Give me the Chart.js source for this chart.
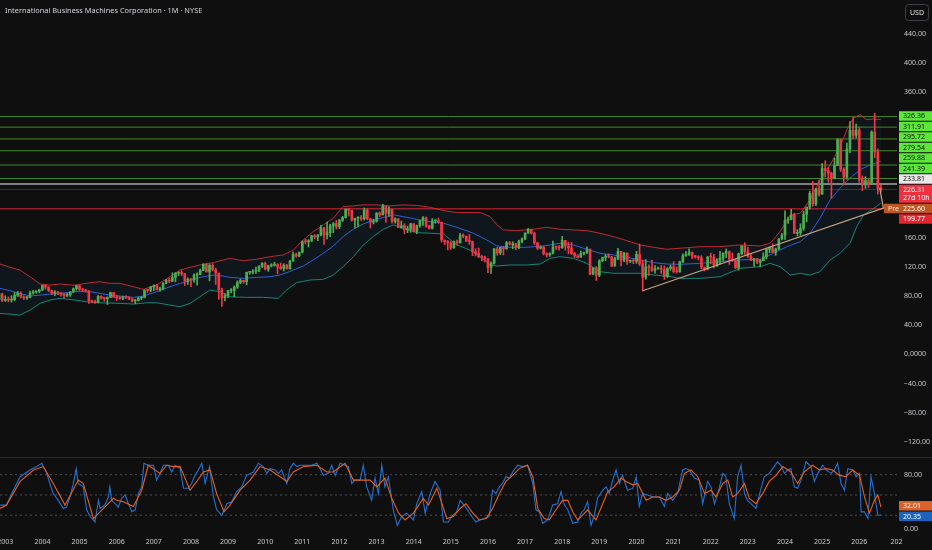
<!DOCTYPE html>
<html>
<head>
<meta charset="utf-8">
<script src="https://cdn.jsdelivr.net/npm/chart.js@4.4.1/dist/chart.umd.min.js"></script>
<style>
html, body { margin: 0; padding: 0; background: #0f0f0f; }
#wrap { position: relative; width: 932px; height: 550px; overflow: hidden; background: #0f0f0f; }
canvas { position: absolute; left: 0; }
#price { top: 0; }
#osc { top: 456px; }
</style>
</head>
<body>
<div id="wrap">
  <canvas id="price" width="932" height="456"></canvas>
  <canvas id="osc" width="932" height="94"></canvas>
</div>
<script>
const FONT = '"Noto Sans", "DejaVu Sans", sans-serif';
const UP = '#4caf50';
const DOWN = '#f23645';
const TEXT = '#c8cad0';

// monthly candles, month 0 = Jan 2003, first candle = Nov 2002
const startMonth = -2;
const firstOpen = 75.4;
const closes = [
  83.0, 74.0,
  74.7, 74.5, 74.9, 81.1, 84.0, 78.8, 77.5, 78.3, 84.3, 85.5, 86.4, 88.5,
  94.7, 92.2, 87.7, 84.2, 84.6, 84.2, 83.2, 80.9, 81.8, 85.8, 90.0, 94.2,
  89.2, 88.4, 87.3, 73.0, 72.2, 70.9, 79.7, 77.0, 76.6, 78.2, 84.9, 78.5,
  77.6, 76.6, 78.8, 78.6, 76.3, 73.3, 73.9, 77.4, 78.2, 88.1, 87.8, 92.8,
  94.7, 88.9, 90.1, 97.6, 101.8, 100.6, 105.7, 111.4, 112.5, 110.9, 100.5, 103.2,
  102.3, 108.8, 109.9, 115.3, 123.6, 113.2, 122.2, 116.2, 111.7, 88.8, 77.9, 80.4,
  87.6, 87.9, 92.5, 98.6, 101.5, 99.7, 112.6, 112.8, 114.2, 115.2, 120.7, 125.0,
  116.9, 121.5, 122.5, 123.2, 119.7, 117.9, 122.6, 117.6, 128.1, 137.1, 135.1, 140.2,
  154.7, 154.6, 155.8, 162.9, 161.3, 163.9, 173.7, 164.2, 167.0, 176.3, 179.5, 175.6,
  183.9, 187.8, 199.3, 197.8, 184.2, 186.8, 187.2, 186.1, 198.2, 185.7, 181.5, 183.0,
  194.0, 191.8, 203.7, 193.4, 198.6, 182.5, 186.2, 174.1, 176.9, 171.1, 171.6, 179.2,
  168.7, 176.9, 183.8, 187.7, 176.1, 173.1, 183.1, 183.6, 181.3, 157.0, 154.9, 153.2,
  146.4, 154.6, 153.3, 163.6, 162.1, 155.4, 154.7, 141.2, 138.5, 133.8, 133.1, 131.4,
  119.2, 125.1, 144.7, 139.3, 146.8, 145.0, 153.4, 151.7, 151.7, 146.8, 154.9, 158.5,
  166.6, 171.7, 166.3, 153.1, 145.7, 146.9, 138.2, 136.6, 138.6, 147.2, 147.1, 146.5,
  156.3, 148.8, 146.5, 138.5, 134.9, 133.4, 138.4, 139.9, 144.4, 110.2, 118.7, 108.6,
  128.4, 132.9, 134.8, 134.0, 121.3, 131.7, 141.5, 129.4, 138.9, 127.7, 128.4, 128.0,
  137.2, 124.3, 105.9, 119.9, 119.3, 115.4, 117.4, 117.8, 116.2, 106.7, 117.9, 120.2,
  113.7, 113.5, 127.3, 135.5, 137.2, 140.0, 134.7, 134.0, 132.6, 119.5, 117.1, 133.7,
  133.6, 122.5, 130.0, 132.2, 138.8, 141.2, 130.8, 128.5, 118.8, 138.3, 148.9, 140.9,
  134.7, 129.3, 131.1, 126.4, 128.6, 133.8, 144.2, 146.8, 140.3, 144.6, 158.6, 163.6,
  183.7, 185.0, 191.0, 166.2, 166.9, 173.0, 192.1, 202.1, 221.1, 206.7, 227.4, 219.8,
  255.7, 252.4, 248.7, 241.8, 259.1, 294.8, 254.0, 243.5, 282.0, 307.5, 300.5, 308.0,
  240.0, 234.0, 238.5, 235.5, 305.0, 278.0, 228.0, 226.31
];
const highs = [
  85.5, 84.0,
  80.5, 79.0, 80.5, 85.0, 86.5, 86.0, 80.5, 79.8, 87.0, 88.0, 87.5, 89.5,
  95.0, 95.5, 93.0, 88.5, 87.5, 86.5, 85.0, 83.5, 84.0, 86.0, 91.0, 95.0,
  94.5, 90.5, 89.5, 87.5, 74.5, 74.5, 81.0, 80.5, 78.5, 79.0, 85.5, 85.0,
  81.0, 79.5, 80.0, 80.5, 79.0, 76.5, 75.5, 78.5, 79.0, 88.5, 89.5, 93.0,
  95.5, 96.0, 92.5, 98.5, 103.0, 104.5, 112.0, 112.5, 113.5, 115.0, 111.0, 105.0,
  104.0, 110.5, 112.0, 117.0, 124.5, 125.0, 124.0, 124.5, 118.5, 111.0, 91.0, 83.5,
  88.0, 90.5, 94.0, 101.0, 103.5, 102.0, 113.0, 113.5, 116.5, 120.0, 122.0, 126.0,
  126.5, 122.5, 124.5, 126.5, 124.5, 125.5, 124.5, 123.5, 129.0, 140.5, 139.0, 140.5,
  156.0, 158.0, 157.5, 163.5, 164.5, 164.5, 177.0, 174.5, 181.5, 178.5, 181.0, 184.0,
  185.5, 189.5, 200.0, 200.5, 198.0, 187.0, 189.0, 190.5, 201.0, 200.0, 186.5, 185.5,
  194.5, 195.5, 206.0, 203.5, 203.0, 199.5, 187.5, 186.0, 183.0, 179.5, 176.0, 180.0,
  180.0, 177.5, 184.0, 189.0, 188.5, 177.5, 186.5, 185.0, 187.0, 181.5, 157.0, 156.5,
  155.0, 156.0, 157.0, 166.0, 165.5, 162.5, 164.5, 155.5, 145.0, 146.0, 136.0, 135.0,
  131.5, 127.0, 145.5, 147.0, 147.0, 148.0, 155.0, 155.0, 154.5, 152.5, 157.0, 160.0,
  167.0, 173.0, 172.0, 168.0, 154.0, 149.0, 148.5, 139.5, 139.5, 155.5, 148.5, 149.5,
  162.0, 156.5, 154.0, 153.5, 140.0, 137.0, 142.0, 140.5, 147.5, 144.5, 119.0, 120.5,
  130.0, 133.5, 137.0, 138.0, 134.5, 133.5, 145.5, 141.5, 140.0, 139.5, 129.5, 130.5,
  141.5, 151.5, 129.0, 130.0, 123.0, 129.5, 122.0, 120.0, 122.5, 121.5, 119.0, 122.5,
  127.5, 120.0, 128.0, 138.0, 141.5, 145.0, 140.5, 136.0, 135.5, 135.5, 120.0, 134.5,
  138.8, 137.4, 131.5, 141.5, 139.5, 144.7, 141.9, 139.3, 130.5, 138.9, 149.0, 153.2,
  147.2, 137.5, 131.5, 132.0, 130.3, 139.5, 146.0, 147.7, 151.9, 146.0, 158.6, 166.3,
  196.9, 188.5, 199.2, 193.8, 171.2, 179.3, 196.8, 202.2, 224.2, 237.4, 228.0, 239.4,
  261.8, 265.7, 257.0, 250.0, 269.3, 296.2, 296.0, 256.0, 290.0, 319.4, 325.0, 316.0,
  312.0, 245.0, 244.0, 241.0, 307.0, 331.0, 282.0, 232.0
];
const lows = [
  74.0, 72.5,
  72.5, 72.0, 71.8, 74.0, 79.5, 77.5, 75.0, 75.5, 77.5, 82.5, 84.0, 84.5,
  87.5, 89.5, 86.0, 82.0, 80.5, 82.0, 80.0, 77.5, 79.0, 79.5, 85.0, 88.0,
  87.5, 86.0, 85.5, 70.0, 70.5, 70.0, 70.5, 76.0, 73.0, 68.5, 78.0, 78.0,
  74.0, 75.5, 75.0, 76.5, 75.0, 72.0, 69.5, 73.0, 75.0, 77.5, 85.0, 86.0,
  87.5, 88.0, 86.5, 88.5, 97.0, 98.5, 100.0, 99.5, 108.0, 108.0, 94.5, 96.0,
  93.0, 99.0, 95.0, 109.5, 115.0, 113.0, 101.0, 114.5, 96.0, 75.5, 66.0, 73.5,
  78.0, 84.5, 79.0, 90.5, 97.0, 97.5, 95.5, 110.0, 110.5, 111.0, 113.5, 119.0,
  116.0, 114.0, 120.0, 121.0, 110.5, 116.5, 114.5, 117.0, 117.0, 128.0, 133.5, 134.0,
  139.5, 151.5, 147.5, 155.0, 158.5, 156.0, 162.5, 151.0, 158.5, 161.5, 167.0, 172.0,
  172.5, 182.5, 187.0, 190.0, 183.0, 173.5, 175.0, 184.0, 184.5, 185.0, 173.5, 179.0,
  181.5, 189.0, 191.0, 181.0, 189.5, 180.0, 180.0, 174.0, 173.0, 165.5, 167.0, 167.5,
  168.0, 165.5, 174.5, 177.0, 174.5, 172.0, 172.0, 180.0, 180.0, 154.0, 150.5, 143.5,
  144.0, 145.5, 150.0, 152.5, 160.0, 155.0, 151.0, 135.5, 135.0, 133.0, 128.5, 127.0,
  112.0, 111.0, 124.0, 136.0, 137.0, 136.5, 144.0, 150.0, 145.0, 143.5, 145.0, 153.0,
  157.5, 166.0, 165.0, 151.0, 144.0, 144.5, 136.5, 133.5, 134.5, 138.0, 143.5, 143.0,
  145.5, 143.0, 138.0, 137.0, 133.0, 132.0, 133.0, 136.5, 138.5, 109.0, 109.0, 101.5,
  106.5, 127.0, 128.5, 132.5, 120.5, 121.0, 130.0, 121.5, 127.0, 123.5, 126.0, 124.5,
  125.0, 122.0, 87.0, 103.0, 108.5, 114.0, 111.5, 117.0, 111.0, 103.0, 105.5, 115.5,
  112.0, 111.5, 112.5, 126.0, 134.5, 136.0, 131.5, 132.0, 129.5, 117.5, 114.5, 116.0,
  124.2, 118.8, 120.7, 124.5, 128.1, 132.9, 123.5, 127.5, 118.0, 115.5, 136.5, 137.2,
  133.0, 128.5, 120.6, 124.6, 120.2, 128.5, 131.0, 139.5, 139.6, 135.9, 143.5, 157.0,
  157.9, 179.6, 185.2, 165.7, 162.6, 163.5, 170.2, 181.8, 199.3, 203.5, 204.1, 217.0,
  219.8, 243.5, 236.4, 214.5, 241.0, 259.0, 251.0, 233.4, 240.5, 277.0, 296.0, 297.0,
  236.0, 225.0, 228.0, 229.0, 233.0, 270.0, 220.0, 223.0
];

// Bollinger bands: [month, price]
const bbUpper = [
  [-1.7, 124], [1.5, 119.5], [4.7, 115.8], [8.0, 106.6], [11.2, 96.6], [14.4, 95.2], [17.7, 96.6],
  [22.5, 95], [27.4, 98.4], [30.6, 99.7], [33.8, 97.5], [37.1, 97.5], [41.4, 92.9], [44.6, 89.2],
  [48.9, 95.2], [53.2, 106.6], [56.5, 115.8], [59.7, 119.5], [62.9, 122.7], [67.2, 125.9], [70.5, 129.6],
  [72.6, 131.9], [76.9, 128.6], [81.2, 130.5], [85.5, 134.1], [89.8, 136.5], [93.1, 143.3], [96.3, 157.1],
  [99.5, 168.5], [102.8, 177.7], [106.0, 186.9], [109.2, 202.9], [112.5, 203.9], [115.7, 205.2],
  [120.0, 205.2], [124.3, 203.9], [128.6, 205.2], [132.9, 204.5], [137.2, 202], [141.6, 197.4],
  [145.9, 194.7], [153.5, 194.7], [156.7, 189.1], [158.9, 177.7], [161.0, 170.8], [165.3, 169.9],
  [170.7, 171.8], [175.0, 174.5], [179.3, 171.8], [183.6, 170.8], [187.9, 169.9], [192.2, 166.3],
  [196.6, 161.6], [200.9, 156.1], [205.2, 150.2], [209.5, 147.0], [213.8, 144.3], [218.1, 145.7],
  [224.6, 147.9], [231.0, 147.9], [237.5, 150.2], [244.0, 148.8], [247.2, 152.5], [250.4, 168.5],
  [253.7, 191.5], [256.9, 193.8], [260.1, 212.1], [263.3, 239.6], [266.6, 260.2], [269.8, 285.4],
  [272.0, 308.4], [274.1, 324.5], [276.3, 329], [278.4, 322.1], [280.6, 323.1], [283.0, 322.5]
];
const bbMiddle = [
  [-1.7, 90.6], [1.5, 87.4], [4.7, 83.7], [8.0, 80.1], [11.2, 81.4], [14.4, 82.8], [17.7, 83.7],
  [22.5, 86.0], [27.4, 86.0], [30.6, 83.7], [33.8, 81.4], [37.1, 80.1], [41.4, 78.2], [44.6, 80.1],
  [48.9, 86.0], [53.2, 92.9], [56.5, 97.5], [59.7, 101.1], [62.9, 105.7], [67.2, 108.9], [70.5, 107.5],
  [72.6, 105.7], [76.9, 104.4], [81.2, 105.7], [85.5, 106.6], [88.8, 108.9], [93.1, 115.8], [96.3, 121.3],
  [99.5, 129.6], [102.8, 138.8], [106.0, 148.8], [109.2, 161.6], [112.5, 171.8], [115.7, 179.1],
  [120.0, 185.5], [123.2, 189.1], [125.4, 191.5], [128.6, 189.1], [132.9, 185.5], [137.2, 182.3],
  [141.6, 180], [145.9, 174.5], [151.3, 166.3], [155.6, 157.1], [158.9, 148.8], [163.2, 147],
  [168.5, 147], [173.9, 148.8], [179.3, 152.5], [183.6, 150.2], [187.9, 144.3], [192.2, 138.8],
  [196.6, 136.5], [200.9, 133.3], [205.2, 129.6], [209.5, 125.9], [213.8, 124.1], [218.1, 123.6],
  [224.6, 125.0], [231.0, 127.3], [237.5, 129.6], [244.0, 130.5], [248.3, 138.8], [252.6, 147.9],
  [256.9, 154.7], [260.1, 166.3], [263.3, 186.9], [266.6, 212.1], [269.8, 228.2], [273.0, 242],
  [276.3, 253.4], [279.5, 260.2], [283.0, 265]
];
const bbLower = [
  [-1.7, 56.2], [1.5, 55.3], [4.7, 53.9], [8.0, 60.8], [11.2, 70.0], [14.4, 74.6], [17.7, 76.9],
  [22.5, 74.6], [26.3, 72.2], [30.6, 70.9], [37.1, 70], [41.4, 69.1], [45.7, 70.9], [48.9, 70.9],
  [53.2, 67.7], [56.5, 65.4], [59.7, 70], [62.9, 79.1], [66.1, 88.3], [69.4, 86], [72.6, 79],
  [78.0, 78.3], [83.4, 78.3], [88.2, 76.9], [90.9, 88.3], [94.1, 98.4], [98.5, 102.1], [102.8, 103.0],
  [106.0, 108.9], [109.2, 120.4], [112.5, 134.1], [115.7, 150.2], [118.9, 161.6], [122.2, 171.8],
  [125.4, 177.7], [128.6, 173.2], [132.9, 167.1], [137.2, 166.3], [141.6, 165.3], [145.9, 150.2],
  [150.2, 143.3], [153.5, 134.1], [156.7, 122.7], [158.9, 121.3], [163.2, 122.7], [168.5, 122.7],
  [172.9, 124.1], [176.1, 131.9], [179.3, 134.1], [183.6, 131.9], [187.9, 125], [192.2, 113.5],
  [196.6, 111.3], [200.9, 111.3], [205.2, 111.3], [209.5, 108.9], [213.8, 107.5], [218.1, 104.4],
  [224.6, 104.4], [231.0, 106.6], [237.5, 118.2], [244.0, 120.4], [247.2, 125], [250.4, 120.4],
  [253.7, 108.9], [256.9, 111.3], [260.1, 108.9], [263.3, 113.5], [266.6, 129.6], [269.8, 138.8],
  [273.0, 152.5], [275.2, 175.4], [277.4, 191.5], [280.0, 198.3], [283.0, 207.6]
];

const trendLine = [[206, 87.3], [283.8, 200.8], [282.6, 229.0]];
const greenLevels = [326.36, 311.91, 295.72, 279.54, 259.88, 241.39];
const grayLevel = 233.81;
const redLevel = 199.77;
const lastPrice = 226.31;
const lastCountdown = '27d 10h';
const prePrice = 225.60;
const priceTicks = [440, 400, 360, 160, 120, 80, 40, 0, -40, -80, -120];

// stochastic RSI: [month, value]
const stochK = [
  [-1.7, 35], [0.4, 35], [2.6, 57], [4.8, 77], [8.0, 87], [10.1, 92], [11.8, 97], [13.4, 82], [14.4, 67],
  [15.5, 52], [17.1, 42], [18.8, 30], [19.8, 32], [20.9, 47], [22.0, 67], [22.9, 89], [23.6, 67], [25.2, 62],
  [26.3, 28], [27.4, 18], [29.0, 10], [30.1, 42], [30.6, 30], [32.2, 35], [33.3, 47], [33.8, 62], [34.4, 42],
  [35.5, 37], [36.5, 32], [37.6, 45], [38.7, 50], [39.8, 37], [40.9, 25], [42.0, 28], [43.0, 52], [44.1, 62],
  [44.8, 97], [46.2, 94], [47.9, 94], [48.9, 72], [50.0, 82], [51.1, 94], [52.7, 94], [53.8, 84], [54.9, 94],
  [56.5, 89], [57.6, 60], [59.2, 60], [60.2, 67], [61.3, 79], [62.4, 87], [63.5, 97], [64.6, 67], [66.0, 92],
  [67.3, 47], [68.3, 28], [70.0, 20], [71.6, 37], [73.2, 40], [74.8, 55], [76.4, 62], [78.0, 79], [80.2, 84],
  [81.8, 97], [83.4, 92], [84.5, 82], [85.6, 89], [87.2, 87], [88.3, 82], [89.3, 87], [91.0, 67], [92.0, 89],
  [93.1, 97], [94.2, 92], [95.3, 94], [97.4, 94], [99.0, 94], [100.7, 97], [101.7, 89], [102.8, 79],
  [104.4, 82], [105.5, 94], [106.6, 79], [108.2, 97], [109.8, 94], [110.9, 92], [112.0, 67], [113.0, 72],
  [114.7, 72], [115.7, 94], [116.8, 62], [118.4, 42], [119.5, 75], [120.6, 52], [121.7, 94], [122.7, 62],
  [123.8, 77], [125.4, 28], [126.7, 5], [128.1, 18], [129.7, 23], [131.9, 13], [133.0, 37], [134.6, 55],
  [135.7, 23], [137.3, 52], [138.9, 70], [140.5, 57], [141.6, 10], [143.2, 10], [144.2, 18], [145.9, 25],
  [147.0, 42], [148.6, 33], [150.5, 20], [152.1, 10], [153.2, 13], [154.8, 15], [156.4, 18], [157.5, 57],
  [158.6, 52], [159.7, 62], [160.7, 67], [161.8, 77], [162.9, 75], [164.0, 84], [165.6, 94], [167.2, 92],
  [168.8, 94], [170.5, 67], [171.5, 28], [172.6, 25], [173.7, 8], [175.3, 13], [176.9, 35], [178.5, 37],
  [179.6, 55], [180.7, 35], [181.8, 28], [183.4, 8], [185.0, 10], [186.1, 23], [187.1, 28], [188.2, 40],
  [189.3, 5], [190.4, 20], [191.4, 45], [193.1, 57], [194.2, 62], [195.2, 52], [196.3, 72], [197.4, 87],
  [198.5, 67], [199.5, 79], [201.1, 57], [202.8, 60], [203.9, 77], [204.9, 33], [206.0, 52], [207.6, 50],
  [209.2, 47], [211.4, 47], [213.0, 33], [214.1, 52], [215.7, 42], [217.3, 52], [218.9, 87], [220.0, 89],
  [221.1, 87], [222.7, 75], [224.3, 72], [225.4, 37], [227.0, 70], [228.1, 62], [229.2, 37], [230.2, 50],
  [231.9, 82], [232.9, 77], [234.0, 37], [235.6, 15], [236.7, 77], [237.8, 94], [238.9, 52], [239.9, 42],
  [241.5, 35], [242.6, 30], [243.7, 50], [245.3, 77], [246.9, 82], [248.0, 89], [249.6, 99], [250.7, 94],
  [251.8, 82], [252.9, 87], [253.9, 89], [255.0, 62], [256.1, 60], [257.2, 72], [258.8, 99], [260.4, 92],
  [261.5, 70], [262.6, 82], [264.2, 94], [265.3, 87], [266.9, 82], [268.0, 87], [269.0, 97], [270.1, 67],
  [271.2, 57], [272.3, 89], [273.9, 87], [275.0, 77], [276.1, 82], [276.6, 25], [277.7, 25], [278.8, 15],
  [279.8, 77], [280.9, 52], [282.0, 20], [283.0, 20.35]
];
const stochD = [
  [-1.7, 30], [0.4, 35], [4.8, 70], [9.1, 87], [12.3, 92], [15.5, 67], [19.3, 35], [23.6, 72], [25.2, 67],
  [28.5, 15], [30.6, 25], [35.0, 45], [36.0, 42], [38.2, 40], [41.4, 33], [44.1, 57], [46.2, 94], [50.0, 82],
  [52.2, 94], [54.3, 92], [56.5, 92], [59.7, 57], [61.9, 70], [64.0, 84], [66.2, 87], [68.3, 52], [70.7, 25],
  [72.6, 35], [75.9, 57], [79.1, 72], [82.3, 92], [85.6, 87], [88.8, 77], [91.0, 70], [93.1, 84], [96.4, 92],
  [100.7, 94], [103.9, 84], [106.0, 84], [109.8, 97], [112.5, 72], [115.7, 72], [117.9, 72], [120.1, 62],
  [122.7, 75], [124.9, 45], [127.1, 23], [129.2, 13], [131.9, 23], [135.1, 45], [136.8, 35], [139.5, 60],
  [142.7, 15], [144.8, 18], [147.0, 30], [148.9, 37], [151.1, 23], [153.2, 13], [155.4, 15], [157.5, 30],
  [159.7, 52], [161.8, 70], [164.0, 79], [166.1, 89], [168.8, 94], [170.5, 77], [172.1, 30], [174.2, 15],
  [175.8, 13], [178.0, 28], [180.1, 42], [181.8, 42], [183.4, 25], [185.0, 13], [186.6, 20], [188.2, 28],
  [190.9, 13], [193.1, 37], [194.7, 55], [196.8, 62], [199.0, 75], [200.6, 70], [202.8, 65], [204.4, 67],
  [207.1, 42], [209.2, 47], [211.4, 47], [213.5, 42], [215.7, 47], [217.9, 57], [219.5, 82], [221.6, 87],
  [223.8, 77], [226.0, 52], [228.1, 57], [229.7, 47], [231.9, 67], [233.5, 72], [235.1, 47], [236.7, 52],
  [238.9, 67], [240.5, 45], [242.6, 37], [244.8, 52], [246.9, 70], [249.1, 79], [251.3, 92], [253.9, 84],
  [256.1, 67], [258.2, 84], [260.9, 94], [263.1, 87], [265.3, 89], [267.4, 87], [269.6, 79], [271.7, 77],
  [273.9, 87], [276.1, 79], [277.7, 47], [279.3, 23], [280.9, 42], [282.0, 50], [283.0, 32.01]
];
const stochLevels = [80, 50, 20];
const stochTicks = [80, 0];
const yearLabels = ['2003', '2004', '2005', '2006', '2007', '2008', '2009', '2010', '2011', '2012', '2013',
  '2014', '2015', '2016', '2017', '2018', '2019', '2020', '2021', '2022', '2023', '2024', '2025', '2026', '202'];

const X_MIN = -1.713, X_MAX = 288.2;

// candles as floating bars
const wicks = [], bodies = [];
let prevClose = firstOpen;
closes.forEach((c, i) => {
  const m = startMonth + i;
  const o = prevClose;
  const col = c >= o ? UP : DOWN;
  wicks.push({ x: m, y: [lows[i], highs[i]], c: col });
  bodies.push({ x: m, y: [Math.min(o, c), Math.max(o, c)], c: col });
  prevClose = c;
});

const pts = arr => arr.map(p => ({ x: p[0], y: p[1] }));
const flat = v => [{ x: X_MIN, y: v }, { x: X_MAX, y: v }];
const lineSet = (data, color, width, extra) => Object.assign({
  type: 'line', data: data, borderColor: color, borderWidth: width,
  pointRadius: 0, fill: false, tension: 0
}, extra || {});

function fmtPrice(v) {
  if (v === 0) return '0.0000';
  return v < 0 ? '\u2212' + Math.abs(v).toFixed(2) : v.toFixed(2);
}

// no edge padding on the axes, so the plot fills its canvas
function noPad(s) {
  s.paddingTop = 0; s.paddingBottom = 0; s.paddingLeft = 0; s.paddingRight = 0;
}

// push overlapping axis labels apart, keeping each cluster centred on its values
function spread(items) {
  items.sort((a, b) => a.y - b.y);
  const place = g => {
    let off = 0, sum = 0;
    g.items.forEach(it => { it.off = off; sum += (it.y - 5.25) - off; off += it.h; });
    g.top = sum / g.items.length;
    g.h = off;
  };
  let groups = items.map(it => ({ items: [it] }));
  groups.forEach(place);
  let changed = true;
  while (changed) {
    changed = false;
    for (let i = 0; i < groups.length - 1; i++) {
      if (groups[i].top + groups[i].h > groups[i + 1].top) {
        const g = { items: groups[i].items.concat(groups[i + 1].items) };
        place(g);
        groups.splice(i, 2, g);
        changed = true;
        break;
      }
    }
  }
  groups.forEach(g => g.items.forEach(it => { it.top = g.top + it.off; }));
}

function drawBox(ctx, it, x, w) {
  ctx.fillStyle = it.bg;
  ctx.fillRect(x, it.top + 0.5, w, it.h - 1);
  ctx.fillStyle = it.fg;
  ctx.textAlign = 'left';
  ctx.textBaseline = 'middle';
  ctx.fillText(it.text, x + 4, it.top + 5.5);
  if (it.sub) ctx.fillText(it.sub, x + 4, it.top + 13.5);
}

const priceOverlay = {
  id: 'priceOverlay',
  afterDraw(chart) {
    const ctx = chart.ctx, y = chart.scales.y;
    ctx.save();
    ctx.font = '7.4px ' + FONT;
    ctx.fillStyle = '#d1d4dc';
    ctx.textBaseline = 'middle';
    ctx.textAlign = 'left';
    ctx.fillText('International Business Machines Corporation \u00b7 1M \u00b7 NYSE', 5, 11);
    ctx.strokeStyle = '#3a3d45';
    ctx.lineWidth = 1;
    ctx.beginPath();
    ctx.roundRect(905.5, 4.5, 23, 16, 3);
    ctx.stroke();
    ctx.textAlign = 'center';
    ctx.fillStyle = '#e0e0e0';
    ctx.font = '7px ' + FONT;
    ctx.fillText('USD', 917, 12.5);

    const items = greenLevels.map(v => ({ y: y.getPixelForValue(v), h: 10.5, text: v.toFixed(2), bg: '#5ce63a', fg: '#111' }));
    items.push({ y: y.getPixelForValue(grayLevel), h: 10.5, text: grayLevel.toFixed(2), bg: '#e8e8e8', fg: '#111' });
    items.push({ y: y.getPixelForValue(lastPrice), h: 19, text: lastPrice.toFixed(2), sub: lastCountdown, bg: '#f0303f', fg: '#fff' });
    const pre = { y: y.getPixelForValue(prePrice), h: 10.5, text: prePrice.toFixed(2), bg: '#c0561f', fg: '#fff' };
    items.push(pre);
    items.push({ y: y.getPixelForValue(redLevel), h: 10.5, text: redLevel.toFixed(2), bg: '#e0262e', fg: '#fff' });
    spread(items);
    ctx.font = '7px ' + FONT;
    items.forEach(it => drawBox(ctx, it, 899, 33));
    drawBox(ctx, { top: pre.top, h: 10.5, text: 'Pre', bg: '#c0561f', fg: '#f5e6da' }, 884, 15);
    ctx.restore();
  }
};

const oscOverlay = {
  id: 'oscOverlay',
  afterDraw(chart) {
    const ctx = chart.ctx, y = chart.scales.y, area = chart.chartArea;
    ctx.save();
    ctx.strokeStyle = '#2a2a2a';
    ctx.lineWidth = 1;
    ctx.beginPath();
    ctx.moveTo(0, area.top + 0.5);
    ctx.lineTo(932, area.top + 0.5);
    ctx.stroke();
    const lastD = stochD[stochD.length - 1][1];
    const lastK = stochK[stochK.length - 1][1];
    const items = [
      { y: y.getPixelForValue(lastD), h: 10.5, text: lastD.toFixed(2), bg: '#d9622b', fg: '#fff' },
      { y: y.getPixelForValue(lastK), h: 10.5, text: lastK.toFixed(2), bg: '#1a64c0', fg: '#fff' }
    ];
    spread(items);
    ctx.font = '7px ' + FONT;
    items.forEach(it => drawBox(ctx, it, 899, 33));
    ctx.restore();
  }
};

new Chart(document.getElementById('price'), {
  type: 'bar',
  data: {
    datasets: [
      lineSet(pts(trendLine), '#c9a27e', 1.2, { order: 0 }),
      { type: 'bar', data: bodies, backgroundColor: c => c.raw ? c.raw.c : UP, barThickness: 2,
        minBarLength: 1, grouped: false, borderWidth: 0, order: 1 },
      { type: 'bar', data: wicks, backgroundColor: c => c.raw ? c.raw.c : UP, barThickness: 1,
        grouped: false, borderWidth: 0, order: 2 },
      lineSet(pts(bbLower), '#14877a', 1, { order: 3 }),
      lineSet(pts(bbUpper), 'rgba(230,50,62,0.8)', 1, { order: 3, fill: { target: '-1' }, backgroundColor: 'rgba(33,150,243,0.06)' }),
      lineSet(pts(bbMiddle), '#2c5fd6', 1, { order: 3 }),
      ...greenLevels.map(v => lineSet(flat(v), '#3f8a28', 1, { order: 4 })),
      lineSet(flat(grayLevel), '#a8a8a8', 1.5, { order: 4 }),
      lineSet(flat(lastPrice), 'rgba(170,55,50,0.5)', 1, { order: 4 }),
      lineSet(flat(redLevel), 'rgba(170,30,40,0.9)', 1.5, { order: 4 })
    ]
  },
  options: {
    responsive: false,
    animation: false,
    events: [],
    layout: { padding: 0 },
    plugins: { legend: { display: false }, tooltip: { enabled: false } },
    scales: {
      x: { type: 'linear', min: X_MIN, max: X_MAX, display: false, offset: false },
      y: {
        position: 'right', min: -139.45, max: 486.4,
        grid: { display: false, drawTicks: false }, border: { display: false },
        afterBuildTicks: s => { s.ticks = priceTicks.map(v => ({ value: v })); },
        afterFit: s => { s.width = 35; noPad(s); },
        ticks: { color: TEXT, font: { family: FONT, size: 7 }, padding: 7, callback: v => fmtPrice(v) }
      }
    }
  },
  plugins: [priceOverlay]
});

new Chart(document.getElementById('osc'), {
  type: 'line',
  data: {
    datasets: [
      lineSet(pts(stochD), '#e8611a', 1.1, { order: 0 }),
      lineSet(pts(stochK), '#2471d6', 1.1, { order: 1 }),
      ...stochLevels.map(v => lineSet(flat(v), 'rgba(120,123,134,0.6)', 1, { order: 2, borderDash: [2, 3] }))
    ]
  },
  options: {
    responsive: false,
    animation: false,
    events: [],
    layout: { padding: { top: 1 } },
    plugins: { legend: { display: false }, tooltip: { enabled: false } },
    scales: {
      x: {
        type: 'linear', min: X_MIN, max: X_MAX,
        grid: { display: false, drawTicks: false }, border: { display: false },
        afterBuildTicks: s => { s.ticks = yearLabels.map((t, i) => ({ value: i * 12 })); },
        afterFit: s => { s.height = 14; noPad(s); },
        ticks: { color: TEXT, font: { family: FONT, size: 7 }, padding: 2, maxRotation: 0, autoSkip: false,
          callback: (v, i) => yearLabels[i] }
      },
      y: {
        position: 'right', min: -10.8, max: 106.2,
        grid: { display: false, drawTicks: false }, border: { display: false },
        afterBuildTicks: s => { s.ticks = stochTicks.map(v => ({ value: v })); },
        afterFit: s => { s.width = 35; noPad(s); },
        ticks: { color: TEXT, font: { family: FONT, size: 7 }, padding: 7, callback: v => v.toFixed(2) }
      }
    }
  },
  plugins: [oscOverlay]
});
</script>
</body>
</html>
